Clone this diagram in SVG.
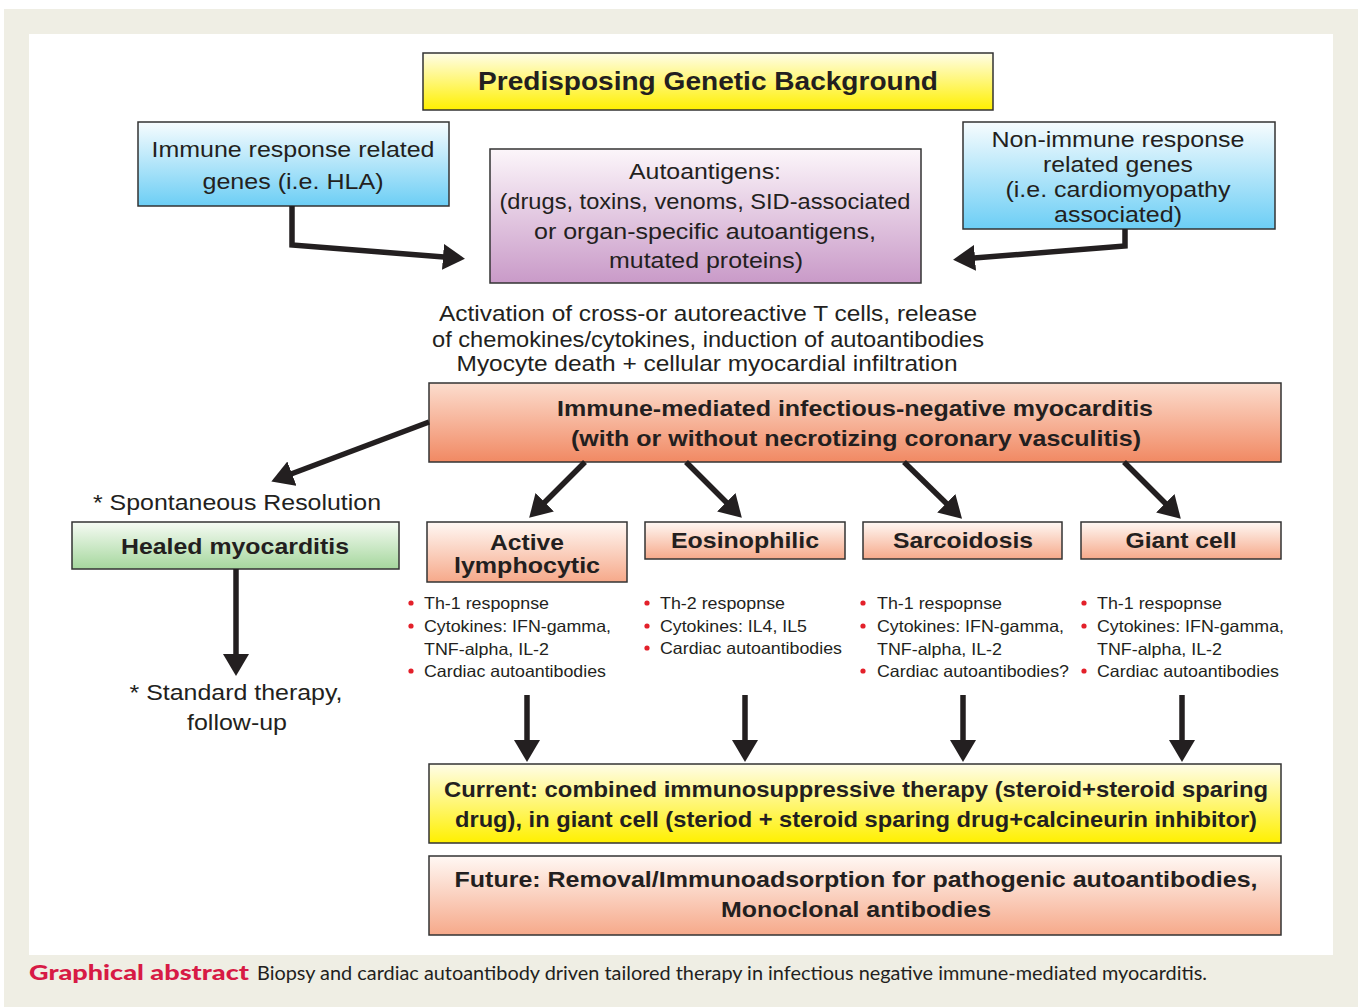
<svg xmlns="http://www.w3.org/2000/svg" width="1362" height="1007" viewBox="0 0 1362 1007">
<style>
.box{stroke:#333;stroke-width:1.5}
.t{font-family:"Liberation Sans",Arial,sans-serif;fill:#231F20;text-anchor:middle}
.r{font-size:22px}
.b{font-size:22px;font-weight:bold}
.bl{font-family:"Liberation Sans",Arial,sans-serif;fill:#231F20;font-size:16.5px}
.dot{fill:#E3202A}
.conn{fill:none;stroke:#231F20;stroke-width:5.5;stroke-linejoin:miter}
</style>
<defs>
<linearGradient id="gY" x1="0" y1="0" x2="0" y2="1"><stop offset="0" stop-color="#FFFDE8"/><stop offset="1" stop-color="#FFF000"/></linearGradient>
<linearGradient id="gB" x1="0" y1="0" x2="0" y2="1"><stop offset="0" stop-color="#F7FCFE"/><stop offset="1" stop-color="#6CCEF5"/></linearGradient>
<linearGradient id="gP" x1="0" y1="0" x2="0" y2="1"><stop offset="0" stop-color="#FCF6FA"/><stop offset="1" stop-color="#C99AC8"/></linearGradient>
<linearGradient id="gO" x1="0" y1="0" x2="0" y2="1"><stop offset="0" stop-color="#FCDDCE"/><stop offset="1" stop-color="#F18963"/></linearGradient>
<linearGradient id="gS" x1="0" y1="0" x2="0" y2="1"><stop offset="0" stop-color="#FFF8F4"/><stop offset="1" stop-color="#F6A98A"/></linearGradient>
<linearGradient id="gG" x1="0" y1="0" x2="0" y2="1"><stop offset="0" stop-color="#F6FBF4"/><stop offset="1" stop-color="#A5D79D"/></linearGradient>
<marker id="ah" viewBox="0 0 22 26" refX="1" refY="13" markerWidth="22" markerHeight="26" markerUnits="userSpaceOnUse" orient="auto"><path d="M0,0 L22,13 L0,26 z" fill="#231F20"/></marker>
</defs>
<rect x="4" y="9" width="1354" height="998" fill="#EFEEE4"/>
<rect x="29" y="34" width="1304" height="921" fill="#FFFFFF"/>

<g id="n-predisposing">
<rect class="box" x="423" y="53" width="570" height="57" fill="url(#gY)"/>
<text class="t" x="708" y="90" font-size="26" font-weight="bold" textLength="460" lengthAdjust="spacingAndGlyphs">Predisposing Genetic Background</text>
</g>
<g id="n-immune">
<rect class="box" x="138" y="122" width="311" height="84" fill="url(#gB)"/>
<text class="t r" x="293" y="157" font-size="23" textLength="283" lengthAdjust="spacingAndGlyphs">Immune response related</text>
<text class="t r" x="293" y="189" font-size="23" textLength="181" lengthAdjust="spacingAndGlyphs">genes (i.e. HLA)</text>
</g>
<g id="n-autoantigens">
<rect class="box" x="490" y="149" width="431" height="134" fill="url(#gP)"/>
<text class="t r" x="705" y="179" textLength="152" lengthAdjust="spacingAndGlyphs">Autoantigens:</text>
<text class="t r" x="705" y="209" textLength="411" lengthAdjust="spacingAndGlyphs">(drugs, toxins, venoms, SID-associated</text>
<text class="t r" x="705" y="239" textLength="342" lengthAdjust="spacingAndGlyphs">or organ-specific autoantigens,</text>
<text class="t r" x="706" y="268" textLength="194" lengthAdjust="spacingAndGlyphs">mutated proteins)</text>
</g>
<g id="n-nonimmune">
<rect class="box" x="963" y="122" width="312" height="107" fill="url(#gB)"/>
<text class="t r" x="1118" y="147" font-size="23" textLength="253" lengthAdjust="spacingAndGlyphs">Non-immune response</text>
<text class="t r" x="1118" y="172" font-size="23" textLength="150" lengthAdjust="spacingAndGlyphs">related genes</text>
<text class="t r" x="1118" y="197" font-size="23" textLength="225" lengthAdjust="spacingAndGlyphs">(i.e. cardiomyopathy</text>
<text class="t r" x="1118" y="222" font-size="23" textLength="128" lengthAdjust="spacingAndGlyphs">associated)</text>
</g>
<g id="n-activation">
<text class="t r" x="708" y="321" textLength="538" lengthAdjust="spacingAndGlyphs">Activation of cross-or autoreactive T cells, release</text>
<text class="t r" x="708" y="347" textLength="552" lengthAdjust="spacingAndGlyphs">of chemokines/cytokines, induction of autoantibodies</text>
<text class="t r" x="707" y="371" textLength="501" lengthAdjust="spacingAndGlyphs">Myocyte death + cellular myocardial infiltration</text>
</g>
<g id="n-myocarditis">
<rect class="box" x="429" y="383" width="852" height="79" fill="url(#gO)"/>
<text class="t b" x="855" y="416" textLength="596" lengthAdjust="spacingAndGlyphs">Immune-mediated infectious-negative myocarditis</text>
<text class="t b" x="856" y="446" textLength="570" lengthAdjust="spacingAndGlyphs">(with or without necrotizing coronary vasculitis)</text>
</g>
<g id="n-spontaneous">
<text class="t r" x="237" y="510" textLength="288" lengthAdjust="spacingAndGlyphs">* Spontaneous Resolution</text>
</g>
<g id="n-healed">
<rect class="box" x="72" y="522" width="327" height="47" fill="url(#gG)"/>
<text class="t b" x="235" y="554" textLength="228" lengthAdjust="spacingAndGlyphs">Healed myocarditis</text>
</g>
<g id="n-standard">
<text class="t r" x="236" y="700" textLength="213" lengthAdjust="spacingAndGlyphs">* Standard therapy,</text>
<text class="t r" x="237" y="730" textLength="100" lengthAdjust="spacingAndGlyphs">follow-up</text>
</g>
<g id="n-lymphocytic">
<rect class="box" x="427" y="522" width="200" height="60" fill="url(#gS)"/>
<text class="t b" x="527" y="550" textLength="74" lengthAdjust="spacingAndGlyphs">Active</text>
<text class="t b" x="527" y="573" textLength="146" lengthAdjust="spacingAndGlyphs">lymphocytic</text>
<circle class="dot" cx="411" cy="603" r="2.6"/><text class="bl" x="424" y="609" textLength="125" lengthAdjust="spacingAndGlyphs">Th-1 respopnse</text>
<circle class="dot" cx="411" cy="626" r="2.6"/><text class="bl" x="424" y="632" textLength="187" lengthAdjust="spacingAndGlyphs">Cytokines: IFN-gamma,</text>
<text class="bl" x="424" y="655" textLength="125" lengthAdjust="spacingAndGlyphs">TNF-alpha, IL-2</text>
<circle class="dot" cx="411" cy="671" r="2.6"/><text class="bl" x="424" y="677" textLength="182" lengthAdjust="spacingAndGlyphs">Cardiac autoantibodies</text>
</g>
<g id="n-eosinophilic">
<rect class="box" x="645" y="522" width="200" height="37" fill="url(#gS)"/>
<text class="t b" x="745" y="548" textLength="148" lengthAdjust="spacingAndGlyphs">Eosinophilic</text>
<circle class="dot" cx="647" cy="603" r="2.6"/><text class="bl" x="660" y="609" textLength="125" lengthAdjust="spacingAndGlyphs">Th-2 respopnse</text>
<circle class="dot" cx="647" cy="626" r="2.6"/><text class="bl" x="660" y="632" textLength="147" lengthAdjust="spacingAndGlyphs">Cytokines: IL4, IL5</text>
<circle class="dot" cx="647" cy="648" r="2.6"/><text class="bl" x="660" y="654" textLength="182" lengthAdjust="spacingAndGlyphs">Cardiac autoantibodies</text>
</g>
<g id="n-sarcoidosis">
<rect class="box" x="863" y="522" width="199" height="37" fill="url(#gS)"/>
<text class="t b" x="963" y="548" textLength="140" lengthAdjust="spacingAndGlyphs">Sarcoidosis</text>
<circle class="dot" cx="863" cy="603" r="2.6"/><text class="bl" x="877" y="609" textLength="125" lengthAdjust="spacingAndGlyphs">Th-1 respopnse</text>
<circle class="dot" cx="863" cy="626" r="2.6"/><text class="bl" x="877" y="632" textLength="187" lengthAdjust="spacingAndGlyphs">Cytokines: IFN-gamma,</text>
<text class="bl" x="877" y="655" textLength="125" lengthAdjust="spacingAndGlyphs">TNF-alpha, IL-2</text>
<circle class="dot" cx="863" cy="671" r="2.6"/><text class="bl" x="877" y="677" textLength="192" lengthAdjust="spacingAndGlyphs">Cardiac autoantibodies?</text>
</g>
<g id="n-giantcell">
<rect class="box" x="1081" y="522" width="200" height="37" fill="url(#gS)"/>
<text class="t b" x="1181" y="548" textLength="111" lengthAdjust="spacingAndGlyphs">Giant cell</text>
<circle class="dot" cx="1084" cy="603" r="2.6"/><text class="bl" x="1097" y="609" textLength="125" lengthAdjust="spacingAndGlyphs">Th-1 respopnse</text>
<circle class="dot" cx="1084" cy="626" r="2.6"/><text class="bl" x="1097" y="632" textLength="187" lengthAdjust="spacingAndGlyphs">Cytokines: IFN-gamma,</text>
<text class="bl" x="1097" y="655" textLength="125" lengthAdjust="spacingAndGlyphs">TNF-alpha, IL-2</text>
<circle class="dot" cx="1084" cy="671" r="2.6"/><text class="bl" x="1097" y="677" textLength="182" lengthAdjust="spacingAndGlyphs">Cardiac autoantibodies</text>
</g>
<g id="n-current">
<rect class="box" x="429" y="764" width="852" height="79" fill="url(#gY)"/>
<text class="t b" x="856" y="797" textLength="824" lengthAdjust="spacingAndGlyphs">Current: combined immunosuppressive therapy (steroid+steroid sparing</text>
<text class="t b" x="856" y="827" textLength="802" lengthAdjust="spacingAndGlyphs">drug), in giant cell (steriod + steroid sparing drug+calcineurin inhibitor)</text>
</g>
<g id="n-future">
<rect class="box" x="429" y="856" width="852" height="79" fill="url(#gS)"/>
<text class="t b" x="856" y="887" textLength="803" lengthAdjust="spacingAndGlyphs">Future: Removal/Immunoadsorption for pathogenic autoantibodies,</text>
<text class="t b" x="856" y="917" textLength="270" lengthAdjust="spacingAndGlyphs">Monoclonal antibodies</text>
</g>

<g id="connectors">
<path class="conn" d="M292,206 V245 L444,257" marker-end="url(#ah)"/>
<path class="conn" d="M1125,229 V246 L974,258" marker-end="url(#ah)"/>
<path class="conn" d="M429,422 L291,474" marker-end="url(#ah)"/>
<path class="conn" d="M236,569 V655" marker-end="url(#ah)"/>
<path class="conn" d="M585,462 L544,503" marker-end="url(#ah)"/>
<path class="conn" d="M686,462 L727,503" marker-end="url(#ah)"/>
<path class="conn" d="M904,462 L947,504" marker-end="url(#ah)"/>
<path class="conn" d="M1124,462 L1166,504" marker-end="url(#ah)"/>
<path class="conn" d="M527,695 V741" marker-end="url(#ah)"/>
<path class="conn" d="M745,695 V741" marker-end="url(#ah)"/>
<path class="conn" d="M963,695 V741" marker-end="url(#ah)"/>
<path class="conn" d="M1182,695 V741" marker-end="url(#ah)"/>
</g>

<g id="caption">
<text x="29" y="980" font-family="Lato,'Open Sans',sans-serif" font-size="21" font-weight="900" fill="#D71A45" textLength="220" lengthAdjust="spacingAndGlyphs">Graphical abstract</text>
<text x="257" y="980" font-family="Lato,'Open Sans',sans-serif" font-size="18.5" fill="#231F20" textLength="950" lengthAdjust="spacingAndGlyphs">Biopsy and cardiac autoantibody driven tailored therapy in infectious negative immune-mediated myocarditis.</text>
</g>
</svg>
